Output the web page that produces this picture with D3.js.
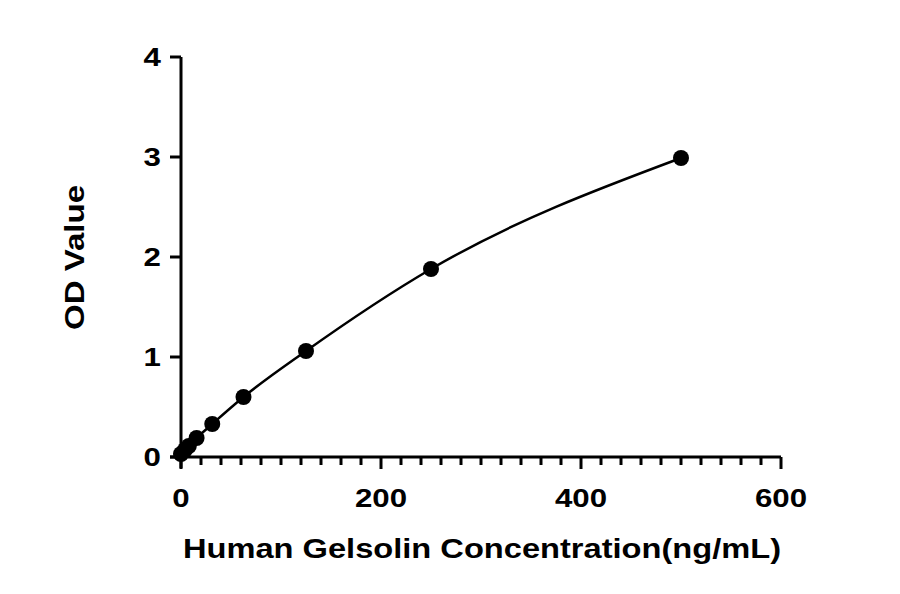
<!DOCTYPE html>
<html><head><meta charset="utf-8">
<script src="https://cdn.jsdelivr.net/npm/d3@7"></script>
<style>body{margin:0;background:#fff}text{font-family:"Liberation Sans",Arial,sans-serif;font-weight:bold}</style>
</head><body><div id="chart"></div>
<script>
const conc = [0, 3.9, 7.8, 15.6, 31.25, 62.5, 125, 250, 500];
const od = [0.03, 0.07, 0.11, 0.19, 0.33, 0.6, 1.06, 1.88, 2.99];
const xTicks = [0, 200, 400, 600];
const yTicks = [0, 1, 2, 3, 4];

const svg = d3.select("#chart").append("svg").attr("width", 900).attr("height", 594);
const x = d3.scaleLinear().domain([0, 600]).range([181, 781]);
const y = d3.scaleLinear().domain([0, 4]).range([457, 57]);

// x axis
const gx = svg.append("g").attr("transform", "translate(0,457)");
gx.append("line").attr("x1", 170).attr("x2", 781).attr("stroke", "#000").attr("stroke-width", 3);
gx.selectAll(".minor").data(d3.range(0, 601, 20)).join("line")
  .attr("x1", d => x(d)).attr("x2", d => x(d))
  .attr("y1", 0).attr("y2", d => d % 200 === 0 ? 12 : 8)
  .attr("stroke", "#000").attr("stroke-width", 3);
gx.selectAll(".lbl").data(xTicks).join("text")
  .attr("transform", d => `translate(${x(d)},50) scale(1.25,1)`).attr("text-anchor", "middle")
  .attr("font-size", 25).text(d => d);

// y axis
const gy = svg.append("g").attr("transform", "translate(181,0)");
gy.append("line").attr("y1", 57).attr("y2", 468).attr("stroke", "#000").attr("stroke-width", 3);
gy.selectAll(".t").data(yTicks).join("line")
  .attr("x1", -11).attr("x2", 0).attr("y1", d => y(d)).attr("y2", d => y(d))
  .attr("stroke", "#000").attr("stroke-width", 3);
gy.selectAll(".lbl").data(yTicks).join("text")
  .attr("transform", d => `translate(-20,${y(d) + 9}) scale(1.25,1)`).attr("text-anchor", "end")
  .attr("font-size", 25).text(d => d);

svg.append("text").attr("x", 183).attr("y", 558)
  .attr("font-size", 28).attr("textLength", 598).attr("lengthAdjust", "spacingAndGlyphs")
  .text("Human Gelsolin Concentration(ng/mL)");
svg.append("text").attr("transform", "translate(84,330) rotate(-90)")
  .attr("font-size", 28).attr("textLength", 145).attr("lengthAdjust", "spacingAndGlyphs")
  .text("OD Value");

const pts = conc.map((c, i) => [c, od[i]]);
svg.append("path").datum(pts)
  .attr("d", d3.line().x(d => x(d[0])).y(d => y(d[1])).curve(d3.curveMonotoneX))
  .attr("fill", "none").attr("stroke", "#000").attr("stroke-width", 2.5);
svg.selectAll(".pt").data(pts).join("circle")
  .attr("cx", d => x(d[0])).attr("cy", d => y(d[1])).attr("r", 8).attr("fill", "#000");
</script></body></html>
